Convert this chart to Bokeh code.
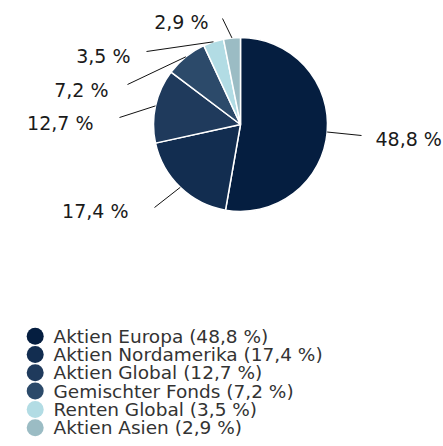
import numpy as np
from bokeh.plotting import figure
from bokeh.models import Range1d, ColumnDataSource
from bokeh.embed import file_html
from bokeh.resources import INLINE
from bokeh.core.properties import value

# ---- data ----
categories = ["Aktien Europa", "Aktien Nordamerika", "Aktien Global",
              "Gemischter Fonds", "Renten Global", "Aktien Asien"]
shares = [48.8, 17.4, 12.7, 7.2, 3.5, 2.9]
colors = ["#051e40", "#122d50", "#1f3a5c", "#2c4a6a", "#b2dce4", "#9bbcc4"]


def fmt(v):
    return f"{v:.1f}".replace(".", ",") + " %"


# ---- layout (image pixel coordinates) ----
W, H = 443, 446


def X(xi):
    return xi


def Y(yi):
    return H - yi


CX, CY, R = 240, 124, 87
label_ends = [(361, 135), (154, 207), (119, 117), (127, 84), (146, 51), (222, 18)]
label_pos = [(375, 138.5, "left"), (128, 210, "right"), (93, 122.5, "right"),
             (108, 89.5, "right"), (130, 55, "right"), (208, 21, "right")]
LEG_X, LEG_TX, LEG_Y0, LEG_DY = 34.7, 53, 335.7, 18.3
FONT = "DejaVu Sans"

vals = np.array(shares, dtype=float)
frac = vals / vals.sum()
cum = np.concatenate([[0], np.cumsum(frac)])
start = np.pi / 2 - 2 * np.pi * cum[:-1]
end = np.pi / 2 - 2 * np.pi * cum[1:]
mid = (start + end) / 2

p = figure(width=W, height=H, output_backend="svg", toolbar_location=None,
           x_range=Range1d(0, W), y_range=Range1d(0, H),
           min_border=0, outline_line_color=None)
p.axis.visible = False
p.grid.visible = False
p.background_fill_color = "white"
p.border_fill_color = "white"

src = ColumnDataSource(dict(start=start, end=end, color=colors))
p.wedge(x=X(CX), y=Y(CY), radius=R, radius_units="screen",
        start_angle="start", end_angle="end", direction="clock",
        fill_color="color", line_color="white", line_width=1.5, source=src)

# leader lines
xs, ys = [], []
for m, (ex, ey) in zip(mid, label_ends):
    sx = X(CX) + R * np.cos(m)
    sy = Y(CY) + R * np.sin(m)
    xs.append([sx, X(ex)])
    ys.append([sy, Y(ey)])
p.multi_line(xs=xs, ys=ys, line_color="#111111", line_width=1)

# labels
for v, (lx, ly, al) in zip(shares, label_pos):
    p.text(x=[X(lx)], y=[Y(ly)], text=[fmt(v)], text_align=al,
           text_baseline="middle", text_font=value(FONT),
           text_font_size="19px", text_color="#1a1a1a")

# legend
ly = [Y(LEG_Y0 + i * LEG_DY) for i in range(len(categories))]
p.scatter(x=[LEG_X] * len(categories), y=ly, size=17, marker="circle",
          fill_color=colors, line_color=None)
p.text(x=[LEG_TX] * len(categories), y=ly,
       text=[f"{c} ({fmt(v)})" for c, v in zip(categories, shares)],
       text_align="left", text_baseline="middle", text_font=value(FONT),
       text_font_size="18.5px", text_color="#333333")

open("out.html", "w").write(file_html(p, INLINE))
